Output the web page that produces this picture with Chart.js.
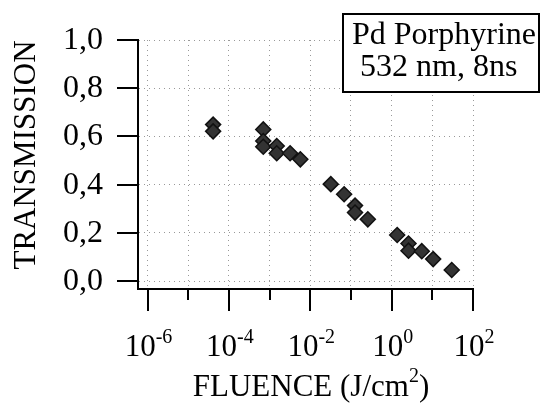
<!DOCTYPE html>
<html>
<head>
<meta charset="utf-8">
<script src="https://cdn.jsdelivr.net/npm/chart.js@4"></script>
<style>
  body { margin: 0; background: #fff; }
  #wrap { width: 541px; height: 405px; }
</style>
</head>
<body>
<div id="wrap"><canvas id="myChart" width="541" height="405"></canvas></div>
<script>
// data
const fluence = [4.1e-5, 4.1e-5, 7.0e-4, 7.0e-4, 7.0e-4, 1.5e-3, 1.5e-3, 3.2e-3, 5.7e-3,
                 0.032, 0.068, 0.126, 0.126, 0.26, 1.37, 2.6, 2.6, 5.5, 10.5, 30];
const transmission = [0.649, 0.621, 0.629, 0.581, 0.557, 0.560, 0.530, 0.530, 0.505,
                      0.402, 0.360, 0.313, 0.284, 0.256, 0.191, 0.156, 0.126, 0.124, 0.091, 0.046];
const yTicks = [0, 0.2, 0.4, 0.6, 0.8, 1.0];
const xGridExp = [-6, -5, -4, -3, -2, -1, 0, 1, 2];
const xLabelExp = [-6, -4, -2, 0, 2];
const boxLines = ['Pd Porphyrine', '532 nm, 8ns'];

const serif = "'Liberation Serif', 'Times New Roman', serif";

// axes ticks, labels, titles and the legend box
const decor = {
    id: 'decor',
    afterDraw(chart) {
        const ctx = chart.ctx;
        const area = chart.chartArea;
        const xs = chart.scales.x, ys = chart.scales.y;
        ctx.save();
        ctx.strokeStyle = '#000';
        ctx.fillStyle = '#000';
        ctx.lineWidth = 2;

        // y ticks + labels
        ctx.font = '32px ' + serif;
        ctx.textAlign = 'right';
        ctx.textBaseline = 'middle';
        yTicks.forEach(v => {
            const py = Math.round(ys.getPixelForValue(v));
            ctx.beginPath();
            ctx.moveTo(area.left - 21, py);
            ctx.lineTo(area.left, py);
            ctx.stroke();
            ctx.fillText(v.toFixed(1).replace('.', ','), area.left - 35, py + 1);
        });

        // x ticks
        xGridExp.forEach(e => {
            const px = Math.round(xs.getPixelForValue(Math.pow(10, e)));
            const len = e % 2 === 0 ? 22 : 11;
            ctx.beginPath();
            ctx.moveTo(px, area.bottom);
            ctx.lineTo(px, area.bottom + len);
            ctx.stroke();
        });

        // x labels 10^n
        ctx.textAlign = 'left';
        ctx.textBaseline = 'alphabetic';
        xLabelExp.forEach(e => {
            const px = xs.getPixelForValue(Math.pow(10, e));
            ctx.font = '31px ' + serif;
            const wBase = ctx.measureText('10').width;
            ctx.font = '20px ' + serif;
            const sup = String(e);
            const wSup = ctx.measureText(sup).width;
            const x0 = px - (wBase + wSup) / 2 + 1;
            ctx.font = '31px ' + serif;
            ctx.fillText('10', x0, area.bottom + 67);
            ctx.font = '20px ' + serif;
            ctx.fillText(sup, x0 + wBase, area.bottom + 54);
        });

        // x title
        ctx.font = '31px ' + serif;
        const t1 = 'FLUENCE (J/cm', t2 = ')';
        const w1 = ctx.measureText(t1).width, w3 = ctx.measureText(t2).width;
        ctx.font = '20px ' + serif;
        const w2 = ctx.measureText('2').width;
        let tx = 311 - (w1 + w2 + w3) / 2;
        ctx.font = '31px ' + serif;
        ctx.fillText(t1, tx, 396);
        ctx.font = '20px ' + serif;
        ctx.fillText('2', tx + w1, 382);
        ctx.font = '31px ' + serif;
        ctx.fillText(t2, tx + w1 + w2, 396);

        // y title
        ctx.save();
        ctx.translate(35, 155);
        ctx.rotate(-Math.PI / 2);
        ctx.textAlign = 'center';
        ctx.fillText('TRANSMISSION', 0, 0);
        ctx.restore();

        // box
        ctx.fillStyle = '#fff';
        ctx.fillRect(343, 14, 196, 78);
        ctx.strokeRect(343, 14, 196, 78);
        ctx.fillStyle = '#000';
        ctx.font = '32px ' + serif;
        ctx.fillText(boxLines[0], 352, 44);
        ctx.fillText(boxLines[1], 360, 76);

        ctx.restore();
    }
};

const ctx = document.getElementById('myChart').getContext('2d');
const myChart = new Chart(ctx, {
    type: 'scatter',
    data: {
        datasets: [{
            data: fluence.map((f, i) => ({ x: f, y: transmission[i] })),
            pointStyle: 'rectRot',
            pointRadius: 7.5,
            backgroundColor: '#333',
            borderColor: '#111',
            borderWidth: 1.5
        }]
    },
    options: {
        responsive: false,
        animation: false,
        layout: { padding: { left: 138, right: 68, top: 40, bottom: 116 } },
        plugins: { legend: { display: false }, tooltip: { enabled: false } },
        scales: {
            x: {
                type: 'logarithmic',
                min: 5.84e-7,
                max: 100,
                afterBuildTicks: s => { s.ticks = xGridExp.map(e => ({ value: Math.pow(10, e) })); },
                afterFit: s => { s.height = 0; },
                ticks: { display: false },
                grid: { color: '#999', lineWidth: 1, drawTicks: false },
                border: { display: true, color: '#000', width: 2, dash: [1, 4] }
            },
            y: {
                min: -0.033,
                max: 1,
                afterBuildTicks: s => { s.ticks = yTicks.map(v => ({ value: v })); },
                afterFit: s => { s.width = 0; },
                ticks: { display: false },
                grid: { color: '#999', lineWidth: 1, drawTicks: false },
                border: { display: true, color: '#000', width: 2, dash: [1, 4] }
            }
        }
    },
    plugins: [decor]
});
</script>
</body>
</html>
